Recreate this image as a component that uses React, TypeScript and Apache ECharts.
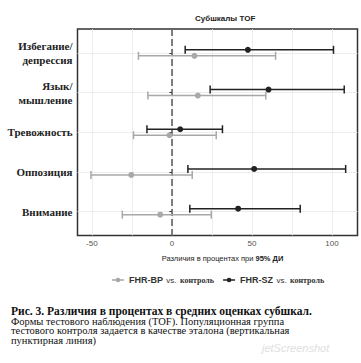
import React, { useEffect, useRef } from "react";
import * as echarts from "echarts";

const categories = ["Избегание/\nдепрессия", "Язык/\nмышление", "Тревожность", "Оппозиция", "Внимание"];
const bpLow = [-20.9, -15, -24, -50.6, -31];
const bpMean = [14.1, 16.2, -1.5, -25.4, -7.3];
const bpHigh = [64.8, 58.7, 27.7, 12.7, 24.6];
const szLow = [8.3, 23.9, -15.6, 10, 11.2];
const szMean = [47.5, 60.4, 5.2, 51.4, 41.4];
const szHigh = [101, 107.7, 31.6, 108.6, 80.2];
const xLabelTicks = [-50, 0, 50, 100];
const xGridTicks = [-50, -25, 0, 25, 50, 75, 100];
const yTicks = [1, 2, 3, 4, 5];
const seriesNames = ["FHR-BP vs. контроль", "FHR-SZ vs. контроль"];
const titleText = "Субшкалы TOF";
const captionLines = [
  "Рис. 3. Различия в процентах в средних оценках субшкал.",
  "Формы тестового наблюдения (TOF). Популяционная группа",
  "тестового контроля задается в качестве эталона (вертикальная",
  "пунктирная линия)",
];

const GREY = "#a8a8a8";
const BLACK = "#222222";

function buildData(low: number[], mean: number[], high: number[]) {
  return categories.map((_, i) => [i + 1, low[i], mean[i], high[i]]);
}

function makeRenderItem(color: string, offset: number) {
  return (params: any, api: any) => {
    const y = api.value(0);
    const lo = api.coord([api.value(1), y]);
    const mid = api.coord([api.value(2), y]);
    const hi = api.coord([api.value(3), y]);
    const yy = lo[1] + offset;
    const cap = 4;
    const ls = { stroke: color, lineWidth: 1.5 };
    return {
      type: "group",
      children: [
        { type: "line", shape: { x1: lo[0], y1: yy, x2: hi[0], y2: yy }, style: ls },
        { type: "line", shape: { x1: lo[0], y1: yy - cap, x2: lo[0], y2: yy + cap }, style: ls },
        { type: "line", shape: { x1: hi[0], y1: yy - cap, x2: hi[0], y2: yy + cap }, style: ls },
        { type: "circle", shape: { cx: mid[0], cy: yy, r: 3 }, style: { fill: color } },
      ],
    };
  };
}

const legendIcon =
  "path://M0,4.3 L13,4.3 L13,5.7 L0,5.7 Z M6.5,2.5 A2.5,2.5 0 1 1 6.49,2.5 Z";

export default function App() {
  const ref = useRef<HTMLDivElement>(null);
  useEffect(() => {
    if (!ref.current) return;
    const chart = echarts.init(ref.current, undefined, { renderer: "svg" });
    const option: any = {
      animation: false,
      backgroundColor: "#ffffff",
      title: {
        text: titleText,
        left: 190,
        top: 9,
        textStyle: { fontSize: 8, fontWeight: "bold", fontFamily: "Liberation Sans", color: "#222" },
      },
      legend: {
        left: 107,
        top: 269,
        itemGap: 9,
        itemWidth: 12,
        itemHeight: 5,
        data: seriesNames.map((n) => ({ name: n, icon: legendIcon })),
        formatter: (name: string) => {
          const parts = name.split(" ");
          return `{a|${parts[0]}} {b|${parts[1]}} {c|${parts.slice(2).join(" ")}}`;
        },
        textStyle: {
          rich: {
            a: { fontFamily: "Liberation Sans", fontSize: 9, fontWeight: "bold", color: "#333" },
            b: { fontFamily: "Liberation Sans", fontSize: 8, color: "#333" },
            c: { fontFamily: "Liberation Serif", fontSize: 8, fontWeight: "bold", color: "#333" },
          },
        },
      },
      grid: {
        left: 77.5,
        right: 3.5,
        top: 29,
        bottom: 127.5,
        show: true,
        borderColor: "#333",
        borderWidth: 1.5,
        backgroundColor: "transparent",
      },
      xAxis: {
        type: "value",
        min: -59,
        max: 116,
        name: "{a|Различия в процентах при }{b|95% ДИ}",
        nameLocation: "middle",
        nameGap: 19,
        nameTextStyle: {
          padding: [0, 0, 0, 10],
          rich: {
            a: { fontFamily: "Liberation Sans", fontSize: 7.5, color: "#222" },
            b: { fontFamily: "Liberation Sans", fontSize: 7.5, fontWeight: "bold", color: "#222" },
          },
        },
        axisLine: { show: false },
        axisTick: { show: false, customValues: xGridTicks },
        axisLabel: {
          customValues: xLabelTicks,
          color: "#555",
          fontSize: 8,
          fontFamily: "Liberation Sans",
          margin: 4,
        },
        splitLine: { show: true, lineStyle: { color: "#e8e8e8", width: 0.8 } },
      },
      yAxis: {
        type: "value",
        min: 0.4,
        max: 5.6,
        inverse: true,
        axisLine: { show: false },
        axisTick: { show: true, length: 2.5, customValues: yTicks, lineStyle: { color: "#333", width: 1 } },
        axisLabel: {
          customValues: yTicks,
          formatter: (v: number) => categories[Math.round(v) - 1] || "",
          fontFamily: "'Liberation Serif', 'DejaVu Serif', serif",
          fontWeight: "bold",
          fontSize: 11,
          lineHeight: 14,
          color: "#222",
          margin: 5,
          align: "right",
        },
        splitLine: { show: true, lineStyle: { color: "#e8e8e8", width: 0.8 } },
      },
      series: [
        {
          name: seriesNames[0],
          type: "custom",
          itemStyle: { color: GREY },
          renderItem: makeRenderItem(GREY, 3),
          encode: { x: [1, 2, 3], y: 0 },
          data: buildData(bpLow, bpMean, bpHigh),
          z: 3,
          markLine: {
            silent: true,
            symbol: "none",
            label: { show: false },
            lineStyle: { type: [7, 3], color: "#555", width: 1.5 },
            data: [{ xAxis: 0 }],
            z: 2,
          },
        },
        {
          name: seriesNames[1],
          type: "custom",
          itemStyle: { color: BLACK },
          renderItem: makeRenderItem(BLACK, -3),
          encode: { x: [1, 2, 3], y: 0 },
          data: buildData(szLow, szMean, szHigh),
          z: 4,
        },
      ],
      graphic: [
        ...captionLines.map((t, i) => ({
          type: "text",
          left: 11,
          top: (i === 0 ? 305 : 306) + i * 9.5,
          style: {
            text: t,
            fontFamily: "Liberation Serif",
            fontSize: i === 0 ? 11.5 : 10.5,
            fontWeight: i === 0 ? "bold" : "normal",
            fill: "#111",
          },
        })),
        {
          type: "text",
          left: 262,
          top: 342,
          style: {
            text: "jetScreenshot",
            fontFamily: "Liberation Sans",
            fontStyle: "italic",
            fontSize: 11,
            fill: "#e0e0e0",
          },
        },
      ],
    };
    chart.setOption(option);
    return () => chart.dispose();
  }, []);
  return (
    <div
      ref={ref}
      style={{ position: "fixed", left: 0, top: 0, width: 361, height: 363, background: "#fff" }}
    />
  );
}
